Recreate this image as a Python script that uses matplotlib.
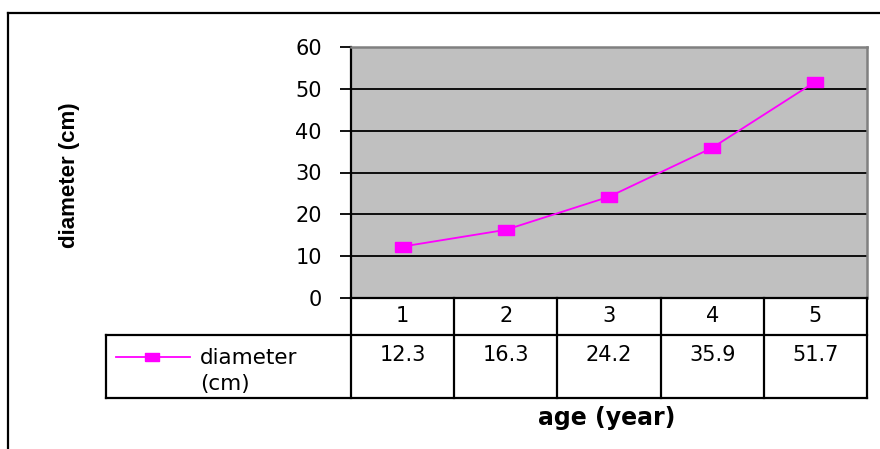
import matplotlib
matplotlib.use("Agg")
import matplotlib.pyplot as plt
from matplotlib.lines import Line2D
from matplotlib.transforms import Affine2D, blended_transform_factory

''' DATA '''
ages = [1, 2, 3, 4, 5]
diameters = [12.3, 16.3, 24.2, 35.9, 51.7]
series_name = "diameter\n(cm)"
x_title = "age (year)"
y_title = "diameter (cm)"

W, H = 880, 449
MAGENTA = "#FF00FF"
FONT = "DejaVu Sans"

fig = plt.figure(figsize=(W / 100, H / 100), dpi=100)
px = Affine2D().scale(1 / W, -1 / H).translate(0, 1) + fig.transFigure

# plot area in pixels
L, R, T, B = 351, 867, 47, 298
ax = fig.add_axes([L / W, 1 - B / H, (R - L) / W, (B - T) / H])
ax.set_facecolor("#C0C0C0")
ax.set_xlim(0.5, 5.5)
ax.set_ylim(0, 60)
ax.set_yticks(range(0, 61, 10))
ax.set_xticks([])
ax.yaxis.grid(True, color="black", linewidth=1.3)
ax.set_axisbelow(True)
ax.tick_params(axis="y", length=8, width=1.3, pad=13, labelsize=15)
for lab in ax.get_yticklabels():
    lab.set_family(FONT)
for s in ["top", "right"]:
    ax.spines[s].set_color("#808080")
    ax.spines[s].set_linewidth(1.8)
for s in ["left", "bottom"]:
    ax.spines[s].set_color("black")
    ax.spines[s].set_linewidth(1.6)

box = [(-1.6, -1), (1.6, -1), (1.6, 1), (-1.6, 1), (-1.6, -1)]
ax.plot(ages, diameters, color=MAGENTA, linewidth=1.3, marker=box,
        markersize=12, markeredgecolor=MAGENTA, markerfacecolor=MAGENTA,
        clip_on=False, zorder=3)

# data table under the plot
mix = blended_transform_factory(ax.transData, px)
row1, row2, row3 = B, 335, 398
tab_left = 106
lw = 1.6
for a in ages:
    fig.add_artist(Line2D([a + 0.5, a + 0.5], [row1, row3], color="black", lw=lw, transform=mix))
    fig.text(a, (row1 + row2) / 2, str(a), transform=mix, ha="center", va="center",
             fontsize=15, family=FONT)
for a, d in zip(ages, diameters):
    fig.text(a, 355, f"{d}", transform=mix, ha="center", va="center",
             fontsize=15, family=FONT)
fig.add_artist(Line2D([0.5, 0.5], [row1, row3], color="black", lw=lw, transform=mix))
for y in [row2, row3]:
    fig.add_artist(Line2D([tab_left, R], [y, y], color="black", lw=lw, transform=px))
fig.add_artist(Line2D([tab_left, tab_left], [row2, row3], color="black", lw=lw, transform=px))

# legend key inside the table
fig.add_artist(Line2D([116, 190], [357, 357], color=MAGENTA, lw=1.3, transform=px))
fig.add_artist(Line2D([152], [357], color=MAGENTA, marker=box, markersize=10,
                      markeredgecolor=MAGENTA, transform=px))
fig.text(200, 371, series_name, transform=px, ha="left", va="center",
         fontsize=15.5, family=FONT, linespacing=1.35)

# axis titles
fig.text(607, 418, x_title, transform=px, ha="center", va="center",
         fontsize=17, fontweight="bold", family=FONT)
fig.text(70, 175, y_title, transform=px, ha="center", va="center", rotation=90,
         fontsize=16, fontweight="bold", family="Liberation Sans")

# outer chart frame (cropped)
fig.add_artist(Line2D([8, W], [13, 13], color="black", lw=1.6, transform=px))
fig.add_artist(Line2D([8, 8], [13, H], color="black", lw=1.6, transform=px))

fig.savefig("out.png", dpi=100)
